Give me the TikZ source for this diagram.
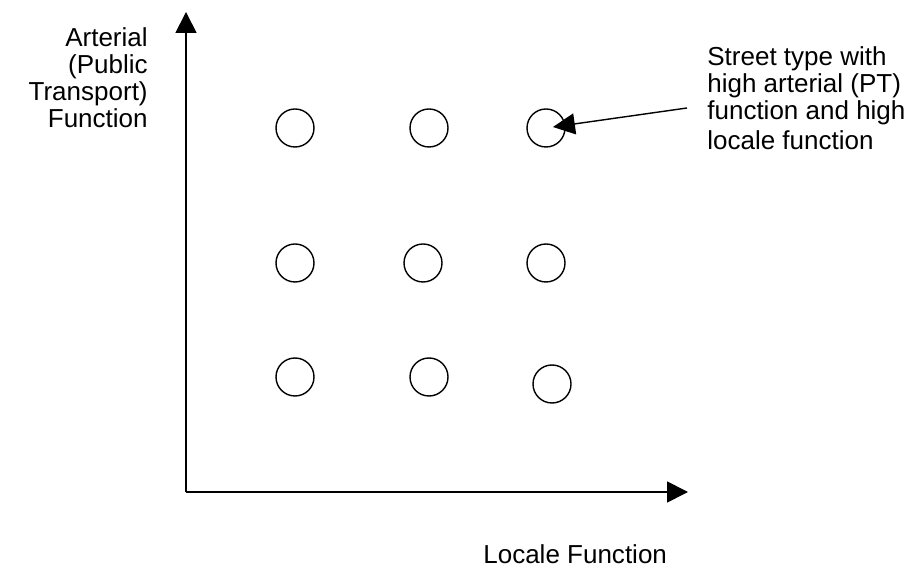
\documentclass[tikz,border=0pt]{standalone}
\usepackage{fontspec}
\setmainfont{Liberation Sans}
\usetikzlibrary{arrows.meta}

\begin{document}
\begin{tikzpicture}[
    axis/.style={black, line width=1pt, -{Triangle[length=0.42cm, width=0.42cm]}},
    street/.style={circle, draw=black, line width=0.8pt, minimum size=0.76cm, inner sep=0pt},
    lbl/.style={inner sep=0pt, font=\fontsize{14.8pt}{15.4pt}\selectfont}
]
\useasboundingbox (0,0) rectangle (18.16,11.38);

\coordinate (origin) at (3.72,1.54);
\coordinate (ytop) at (3.72,11.14);
\coordinate (xend) at (13.76,1.54);
\draw[axis] (origin) -- (ytop);
\draw[axis] (origin) -- (xend);

\node[street] (c11) at (5.9,8.82) {};
\node[street] (c12) at (8.58,8.82) {};
\node[street] (c13) at (10.92,8.82) {};

\node[street] (c21) at (5.9,6.12) {};
\node[street] (c22) at (8.46,6.12) {};
\node[street] (c23) at (10.92,6.12) {};

\node[street] (c31) at (5.9,3.84) {};
\node[street] (c32) at (8.58,3.84) {};
\node[street] (c33) at (11.04,3.70) {};

\node[lbl, anchor=base east, align=right] (ylabel) at (2.96,8.82) {Arterial\\(Public\\Transport)\\Function};
\node[lbl, anchor=base west] (xlabel) at (9.66,0.10) {Locale Function};

\node[lbl, anchor=base west, align=left] (note) at (14.14,8.38) {Street type with\\high arterial (PT)\\function and high\\[0.06cm]locale function};
\coordinate (notetail) at (13.74,9.22);
\draw[black, line width=0.8pt, -{Triangle[length=0.44cm, width=0.42cm]}, shorten >=0.14cm] (notetail) -- (c13.center);
\end{tikzpicture}
\end{document}
